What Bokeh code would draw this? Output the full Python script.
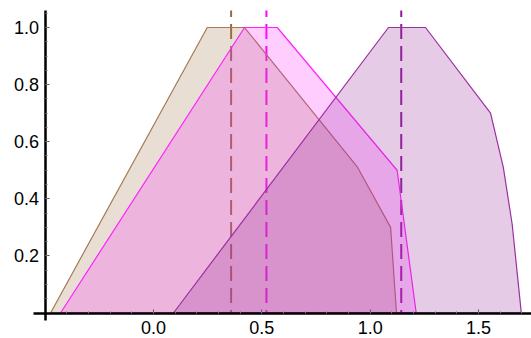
from bokeh.plotting import figure
from bokeh.models import LinearAxis, FixedTicker, PrintfTickFormatter, Range1d
from bokeh.embed import file_html
from bokeh.resources import INLINE

# ---- data ----
brown_x = [-0.475, 0.248, 0.42, 0.94, 1.094, 1.121]
brown_y = [0.0, 1.0, 1.0, 0.512, 0.30, 0.0]
magenta_x = [-0.429, 0.42, 0.571, 1.124, 1.212]
magenta_y = [0.0, 1.0, 1.0, 0.50, 0.0]
purple_x = [0.092, 1.084, 1.255, 1.555, 1.614, 1.655, 1.697]
purple_y = [0.0, 1.0, 1.0, 0.70, 0.51, 0.31, 0.0]
means = [0.358, 0.521, 1.143]
x_ticks = [0.0, 0.5, 1.0, 1.5]
y_ticks = [0.2, 0.4, 0.6, 0.8, 1.0]
x_minor = [round(-0.4 + 0.1 * i, 2) for i in range(22)]
y_minor = [round(0.05 * i, 2) for i in range(1, 22)]

line_cols = ["#a57a52", "#ff22ff", "#9b2fa0"]
dash_cols = ["#9a6840", "#ff00ff", "#8e1a98"]
fill_alpha = [0.25, 0.22, 0.25]

Y_TOP = 1.06
X_LEFT = -0.554
Y_BOTTOM = -0.026

p = figure(width=531, height=338, x_range=Range1d(-0.706, 1.744),
           y_range=Range1d(-0.0893, 1.0946), x_axis_type=None, y_axis_type=None,
           output_backend="svg", toolbar_location=None, min_border=0)
p.outline_line_color = None
p.xgrid.visible = False
p.ygrid.visible = False

# dashed mean lines (drawn first, fills overlay them)
p.segment(x0=means, y0=[0, 0, 0], x1=means, y1=[Y_TOP] * 3,
          line_color=dash_cols, line_width=2, line_dash="15 7", line_dash_offset=12)

for xs, ys, c, a in zip([brown_x, magenta_x, purple_x], [brown_y, magenta_y, purple_y],
                        line_cols, fill_alpha):
    p.patch(xs, ys, fill_color=c, fill_alpha=a, line_color=c, line_width=1.2)

font = "Liberation Sans"
xaxis = LinearAxis(fixed_location=0, bounds=(X_LEFT, 1.744),
                   ticker=FixedTicker(ticks=x_ticks, minor_ticks=x_minor),
                   formatter=PrintfTickFormatter(format="%.1f"))
yaxis = LinearAxis(fixed_location=-0.5, bounds=(Y_BOTTOM, Y_TOP),
                   ticker=FixedTicker(ticks=y_ticks, minor_ticks=y_minor),
                   formatter=PrintfTickFormatter(format="%.1f"))
for ax in (xaxis, yaxis):
    ax.axis_line_width = 2.5
    ax.axis_line_color = "black"
    ax.major_tick_in = 4
    ax.major_tick_out = 0
    ax.minor_tick_in = 2
    ax.minor_tick_out = 0
    ax.major_tick_line_color = "#555555"
    ax.minor_tick_line_color = "#777777"
    ax.major_label_text_font = font
    ax.major_label_text_font_size = "18px"
    ax.major_label_text_color = "black"
xaxis.major_label_standoff = 8
yaxis.major_label_standoff = 6
p.add_layout(xaxis, "below")
p.add_layout(yaxis, "left")

open("out.html", "w").write(file_html(p, INLINE))
